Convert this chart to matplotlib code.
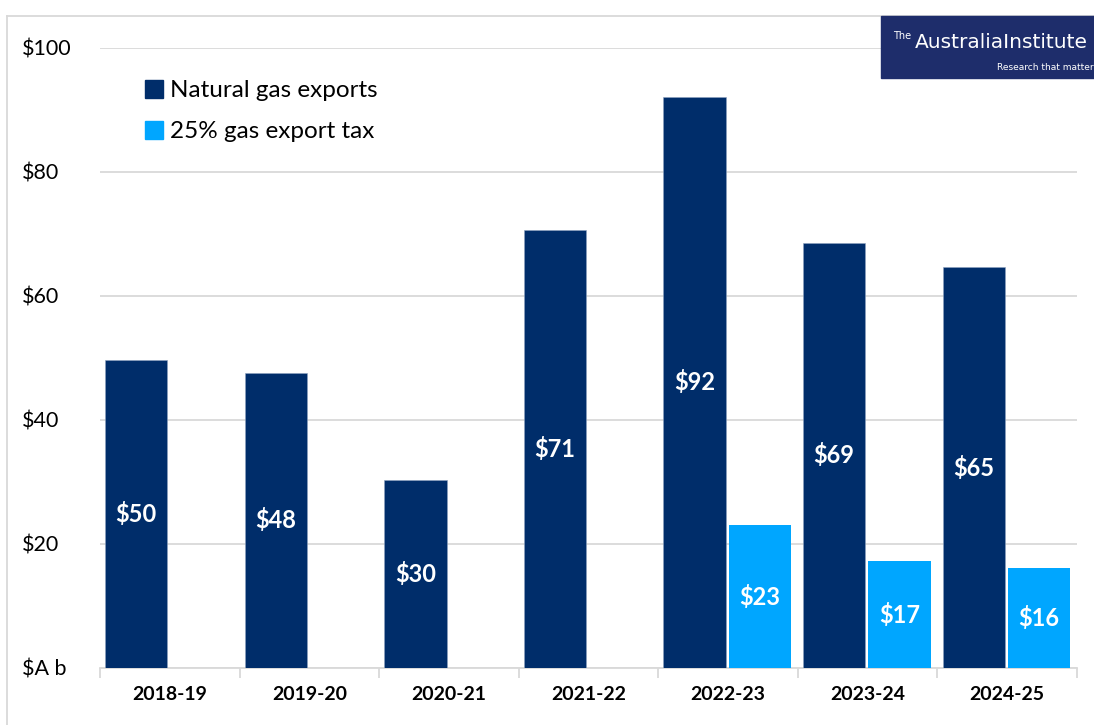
import matplotlib.pyplot as plt
import numpy as np
from matplotlib.patches import Patch, Rectangle
from matplotlib.lines import Line2D

# Data ($A billion)
years = ["2018-19", "2019-20", "2020-21", "2021-22", "2022-23", "2023-24", "2024-25"]
gas_exports = [49.6, 47.6, 30.4, 70.6, 92.1, 68.6, 64.6]
export_tax = [np.nan, np.nan, np.nan, np.nan, 23.0, 17.2, 16.2]
yticks = [0, 20, 40, 60, 80, 100]
ytick_labels = ["$A b", "$20", "$40", "$60", "$80", "$100"]

navy = "#002d6a"
sky = "#00a6ff"
grid_grey = "#d9d9d9"

plt.rcParams['font.family'] = ['Lato', 'DejaVu Sans']

fig = plt.figure(figsize=(10.94, 7.25), dpi=100)
ax = fig.add_axes([100 / 1094, 57 / 725, 977 / 1094, 620 / 725])

x = np.arange(len(years))
w = 0.447
b1 = ax.bar(x - 0.24, gas_exports, width=w, color=navy, edgecolor="#8fa3c0", linewidth=0.4, zorder=3)
b2 = ax.bar(x + 0.228, export_tax, width=w, color=sky, zorder=3)

# value labels in the middle of each bar
for rect, v in zip(b1, gas_exports):
    ax.text(rect.get_x() + rect.get_width() / 2, v / 2, f"${v:.0f}", color="white",
            ha="center", va="center", fontsize=17, fontweight="bold", zorder=4)
for rect, v in zip(b2, export_tax):
    if np.isnan(v):
        continue
    ax.text(rect.get_x() + rect.get_width() / 2, v / 2, f"${v:.0f}", color="white",
            ha="center", va="center", fontsize=17, fontweight="bold", zorder=4)

ax.set_xlim(-0.5, len(years) - 0.5)
ax.set_ylim(0, 100)

ax.set_yticks(yticks)
ax.set_yticklabels(ytick_labels, ha="left", fontsize=15.5)
ax.tick_params(axis="y", length=0, pad=56)
ax.yaxis.grid(True, color=grid_grey, linewidth=1.3, zorder=0)

ax.set_xticks(x)
ax.set_xticklabels(years, fontsize=14, fontweight="bold")
ax.set_xticks(np.arange(-0.5, len(years)), minor=True)
ax.tick_params(axis="x", which="major", length=0, pad=13)
ax.tick_params(axis="x", which="minor", length=7, width=1.3, color=grid_grey, direction="out")

for side in ["top", "right", "left"]:
    ax.spines[side].set_visible(False)
ax.spines["bottom"].set_color(grid_grey)
ax.spines["bottom"].set_linewidth(1.3)

handles = [Patch(color=navy, label="Natural gas exports"),
           Patch(color=sky, label="25% gas export tax")]
ax.legend(handles=handles, loc="upper left", bbox_to_anchor=(0.036, 0.964), frameon=False,
          fontsize=17.5, handlelength=0.75, handleheight=0.75, handletextpad=0.3,
          labelspacing=0.8, borderaxespad=0)

# chart frame (left and top edges visible)
fig.add_artist(Line2D([7 / 1094, 7 / 1094], [0, 1 - 16 / 725], color=grid_grey, linewidth=1.3))
fig.add_artist(Line2D([7 / 1094, 1], [1 - 16 / 725, 1 - 16 / 725], color=grid_grey, linewidth=1.3))

# logo box
fig.add_artist(Rectangle((881 / 1094, 1 - 78 / 725), 213 / 1094, 62 / 725,
                         transform=fig.transFigure, color="#1e2d6b", zorder=5))
fig.text(893 / 1094, 1 - 36 / 725, "The", color="white", fontsize=7, ha="left", va="center",
         family=["Liberation Sans Narrow", "DejaVu Sans"], zorder=6)
fig.text(1088 / 1094, 1 - 43 / 725, "AustraliaInstitute", color="white", fontsize=14.5,
         ha="right", va="center", family=["Liberation Sans Narrow", "DejaVu Sans"], zorder=6)
fig.text(1094 / 1094, 1 - 67 / 725, "Research that matter", color="white", fontsize=6.5,
         ha="right", va="center", family=["Liberation Sans Narrow", "DejaVu Sans"], zorder=6)

fig.savefig("out.png", dpi=100)
